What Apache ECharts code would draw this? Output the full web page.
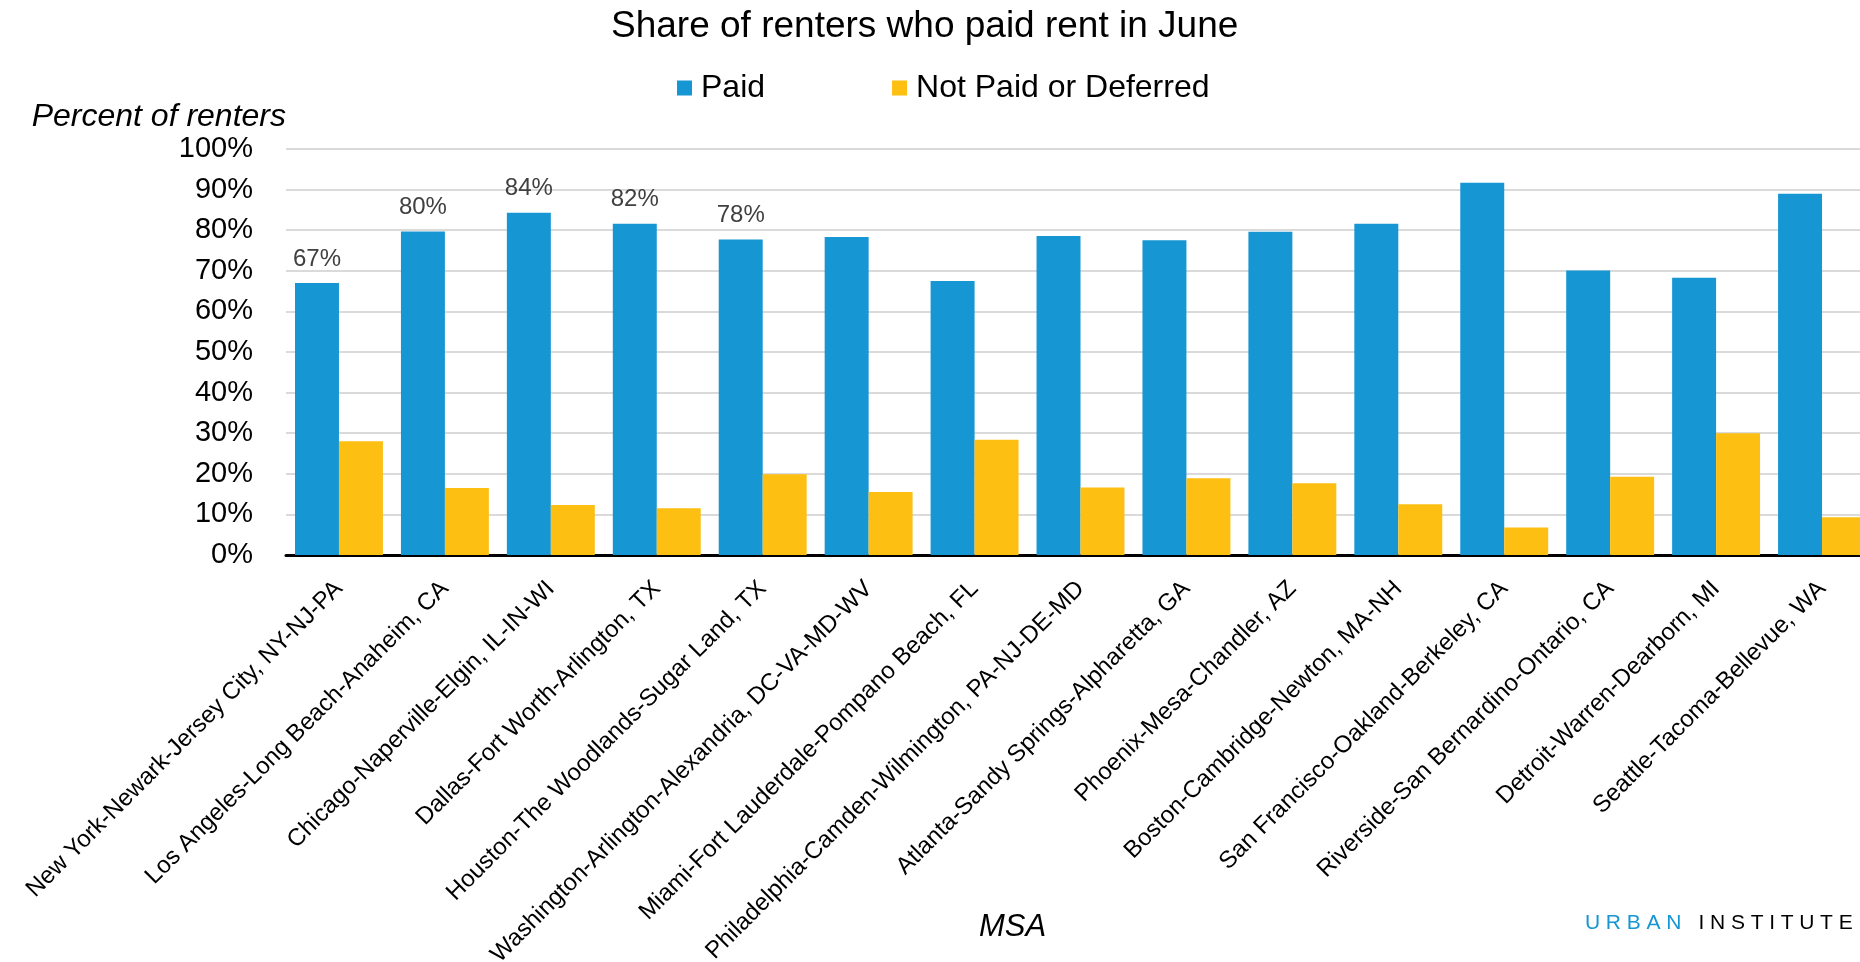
<!DOCTYPE html>
<html>
<head>
<meta charset="utf-8">
<title>Share of renters who paid rent in June</title>
<script src="https://cdn.jsdelivr.net/npm/echarts@6/dist/echarts.min.js"></script>
<style>
  html, body { margin: 0; padding: 0; background: #fff; }
  #main { position: relative; width: 1860px; height: 962px; }
  #logo {
    position: absolute; left: 1585px; top: 910px;
    font-family: "Liberation Sans", Arial, sans-serif;
    font-size: 21px; letter-spacing: 5.7px; white-space: nowrap;
  }
  #logo .u { color: #1696d2; }
  #logo .i { color: #000; }
</style>
</head>
<body>
<div id="main"></div>
<div id="logo"><span class="u">URBAN</span> <span class="i">INSTITUTE</span></div>
<script>
const categories = [
  "New York-Newark-Jersey City, NY-NJ-PA",
  "Los Angeles-Long Beach-Anaheim, CA",
  "Chicago-Naperville-Elgin, IL-IN-WI",
  "Dallas-Fort Worth-Arlington, TX",
  "Houston-The Woodlands-Sugar Land, TX",
  "Washington-Arlington-Alexandria, DC-VA-MD-WV",
  "Miami-Fort Lauderdale-Pompano Beach, FL",
  "Philadelphia-Camden-Wilmington, PA-NJ-DE-MD",
  "Atlanta-Sandy Springs-Alpharetta, GA",
  "Phoenix-Mesa-Chandler, AZ",
  "Boston-Cambridge-Newton, MA-NH",
  "San Francisco-Oakland-Berkeley, CA",
  "Riverside-San Bernardino-Ontario, CA",
  "Detroit-Warren-Dearborn, MI",
  "Seattle-Tacoma-Bellevue, WA"
];
const paid = [67.0, 79.7, 84.3, 81.6, 77.7, 78.3, 67.5, 78.6, 77.5, 79.6, 81.6, 91.7, 70.1, 68.3, 89.0];
const notPaid = [28.0, 16.5, 12.3, 11.5, 19.9, 15.5, 28.4, 16.6, 18.9, 17.7, 12.5, 6.8, 19.3, 30.0, 9.3];
// only the first five "Paid" bars carry a value label in the original
const labeledPaid = 5;

const FONT = '"Liberation Sans", Arial, sans-serif';

const chart = echarts.init(document.getElementById("main"));
const option = {
  animation: false,
  textStyle: { fontFamily: FONT },
  title: {
    text: "Share of renters who paid rent in June",
    left: 606,
    top: 3,
    textStyle: { fontSize: 37, fontWeight: "normal", color: "#000", fontFamily: FONT }
  },
  legend: {
    left: 672,
    top: 67,
    icon: "rect",
    itemWidth: 15,
    itemHeight: 15,
    itemGap: 127,
    textStyle: { fontSize: 32, color: "#000", fontFamily: FONT, padding: [0, 0, 0, 4] }
  },
  grid: {
    left: 286,
    right: -15,
    top: 149,
    bottom: 407,
    containLabel: false,
    outerBoundsMode: "none"
  },
  xAxis: {
    type: "category",
    data: categories,
    axisLine: { show: true, lineStyle: { color: "#000", width: 3 } },
    axisTick: { show: false },
    axisLabel: {
      interval: 0,
      rotate: 45,
      margin: 30,
      fontSize: 24,
      color: "#000",
      fontFamily: FONT
    }
  },
  yAxis: {
    type: "value",
    min: 0,
    max: 100,
    interval: 10,
    name: "Percent of renters",
    nameLocation: "end",
    nameGap: 16,
    nameTextStyle: { fontSize: 32, fontStyle: "italic", color: "#000", align: "right", fontFamily: FONT },
    axisLine: { show: false },
    axisTick: { show: false },
    axisLabel: { formatter: "{value}%", fontSize: 29, color: "#000", margin: 33, fontFamily: FONT },
    splitLine: { lineStyle: { color: "#dadada", width: 2 } }
  },
  graphic: [
    {
      type: "text",
      left: 979,
      top: 912,
      style: { text: "MSA", font: "italic 31px " + FONT, fill: "#000" }
    }
  ],
  series: [
    {
      name: "Paid",
      type: "bar",
      barGap: "0%",
      barCategoryGap: "17%",
      itemStyle: { color: "#1696d2" },
      label: {
        position: "top",
        distance: 12,
        fontSize: 24,
        color: "#404040",
        fontFamily: FONT,
        formatter: p => Math.round(p.value) + "%"
      },
      data: paid.map((v, i) => ({ value: v, label: { show: i < labeledPaid } }))
    },
    {
      name: "Not Paid or Deferred",
      type: "bar",
      itemStyle: { color: "#fdbf11" },
      data: notPaid
    }
  ]
};
chart.setOption(option);
</script>
</body>
</html>
